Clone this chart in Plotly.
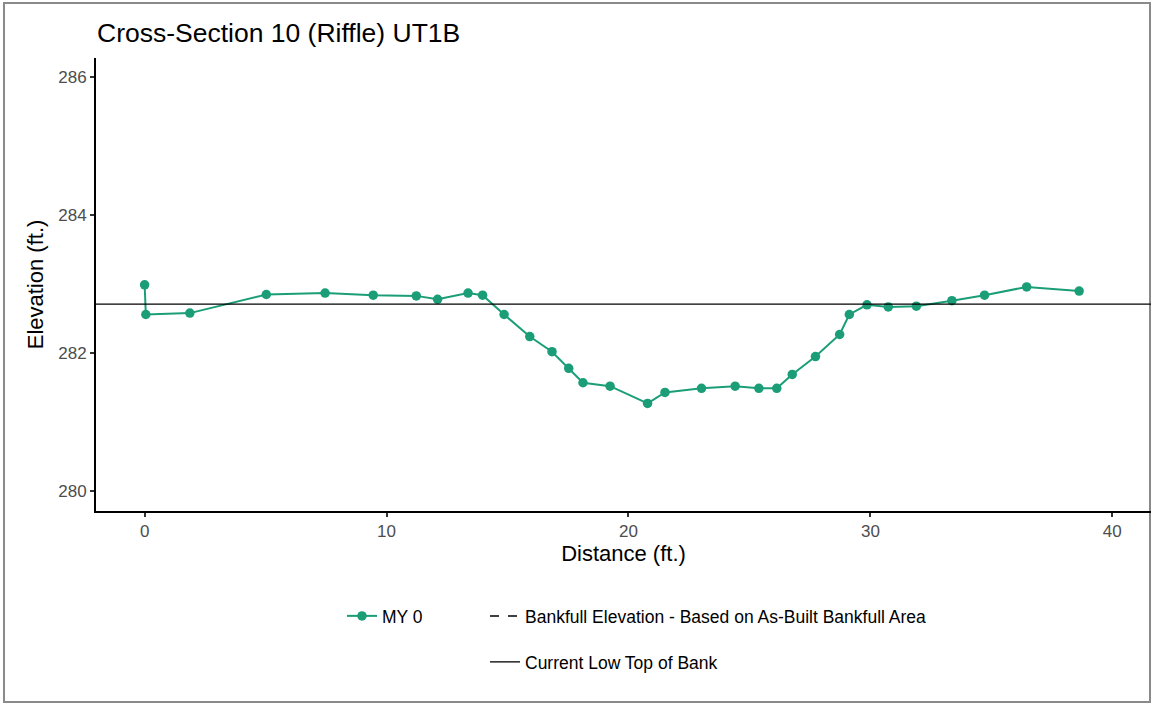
import plotly.graph_objects as go

# Surveyed cross-section points (MY 0)
distance_ft = [0.0, 0.05, 1.87, 5.03, 7.46, 9.45, 11.23, 12.11, 13.37, 13.97,
               14.86, 15.92, 16.84, 17.53, 18.12, 19.24, 20.79, 21.51, 23.02, 24.41,
               25.39, 26.13, 26.77, 27.73, 28.73, 29.13, 29.86, 30.74, 31.90, 33.37,
               34.72, 36.46, 38.63]
elevation_ft = [282.99, 282.56, 282.58, 282.85, 282.87, 282.84, 282.83, 282.78, 282.87, 282.84,
                282.56, 282.24, 282.02, 281.78, 281.57, 281.52, 281.27, 281.43, 281.49, 281.52,
                281.49, 281.49, 281.69, 281.95, 282.27, 282.56, 282.70, 282.67, 282.68, 282.76,
                282.84, 282.96, 282.90]

low_top_of_bank = 282.71

x_range = [-2.01, 41.6]
y_range = [279.71, 286.28]
x_ticks = [0, 10, 20, 30, 40]
y_ticks = [280, 282, 284, 286]

GREEN = "#1b9e77"
FONT = "Liberation Sans, Arial, Helvetica, sans-serif"

fig = go.Figure()

fig.add_trace(go.Scatter(
    x=distance_ft, y=elevation_ft, mode="lines+markers", name="MY 0",
    line=dict(color=GREEN, width=2), marker=dict(color=GREEN, size=9.5),
    legend="legend",
))
fig.add_trace(go.Scatter(
    x=[None], y=[None], mode="lines",
    name="Bankfull Elevation - Based on As-Built Bankfull Area",
    line=dict(color="black", width=1.5, dash="dash"),
    legend="legend3",
))
fig.add_trace(go.Scatter(
    x=x_range, y=[low_top_of_bank, low_top_of_bank], mode="lines",
    name="Current Low Top of Bank",
    line=dict(color="black", width=1.3),
    legend="legend2",
))

W, H = 1151, 704
L, R, T, B = 96, 0, 58, 193
plot_h = H - T - B


def py(pixel_y):
    return (H - B - pixel_y) / plot_h


def px(pixel_x):
    return (pixel_x - L) / (W - L - R)


axis_common = dict(
    showline=True, linecolor="black", linewidth=2, mirror=False,
    showgrid=False, zeroline=False,
    ticks="outside", ticklen=4, tickwidth=1.5, tickcolor="#333333",
    tickfont=dict(family=FONT, size=17, color="#4d4d4d"),
)

legend_common = dict(orientation="h", xanchor="left", yanchor="middle",
                     font=dict(family=FONT, size=17.5, color="black"),
                     bgcolor="rgba(0,0,0,0)", itemwidth=30)

fig.update_layout(
    width=W, height=H,
    margin=dict(l=L, r=R, t=T, b=B),
    paper_bgcolor="white", plot_bgcolor="white",
    font=dict(family=FONT, color="black"),
    title=dict(text="Cross-Section 10 (Riffle) UT1B", x=97 / W, xanchor="left",
               y=1 - 33 / H, yanchor="middle", xref="container", yref="container",
               font=dict(family=FONT, size=26.5, color="black")),
    xaxis=dict(range=x_range, tickvals=x_ticks, title=dict(text="Distance (ft.)", standoff=5,
               font=dict(family=FONT, size=22, color="black")), **axis_common),
    yaxis=dict(range=y_range, tickvals=y_ticks, title=dict(text="Elevation (ft.)", standoff=9,
               font=dict(family=FONT, size=22, color="black")), **axis_common),
    legend=dict(x=px(342), y=py(616), **legend_common),
    legend3=dict(x=px(485), y=py(616), **legend_common),
    legend2=dict(x=px(485), y=py(662), **legend_common),
    showlegend=True,
    shapes=[dict(type="rect", xref="paper", yref="paper",
                 x0=px(4), x1=px(1150), y0=py(702), y1=py(3),
                 line=dict(color="#8a8a8a", width=2), fillcolor="rgba(0,0,0,0)", layer="below")],
)

fig.write_html("out.html")
